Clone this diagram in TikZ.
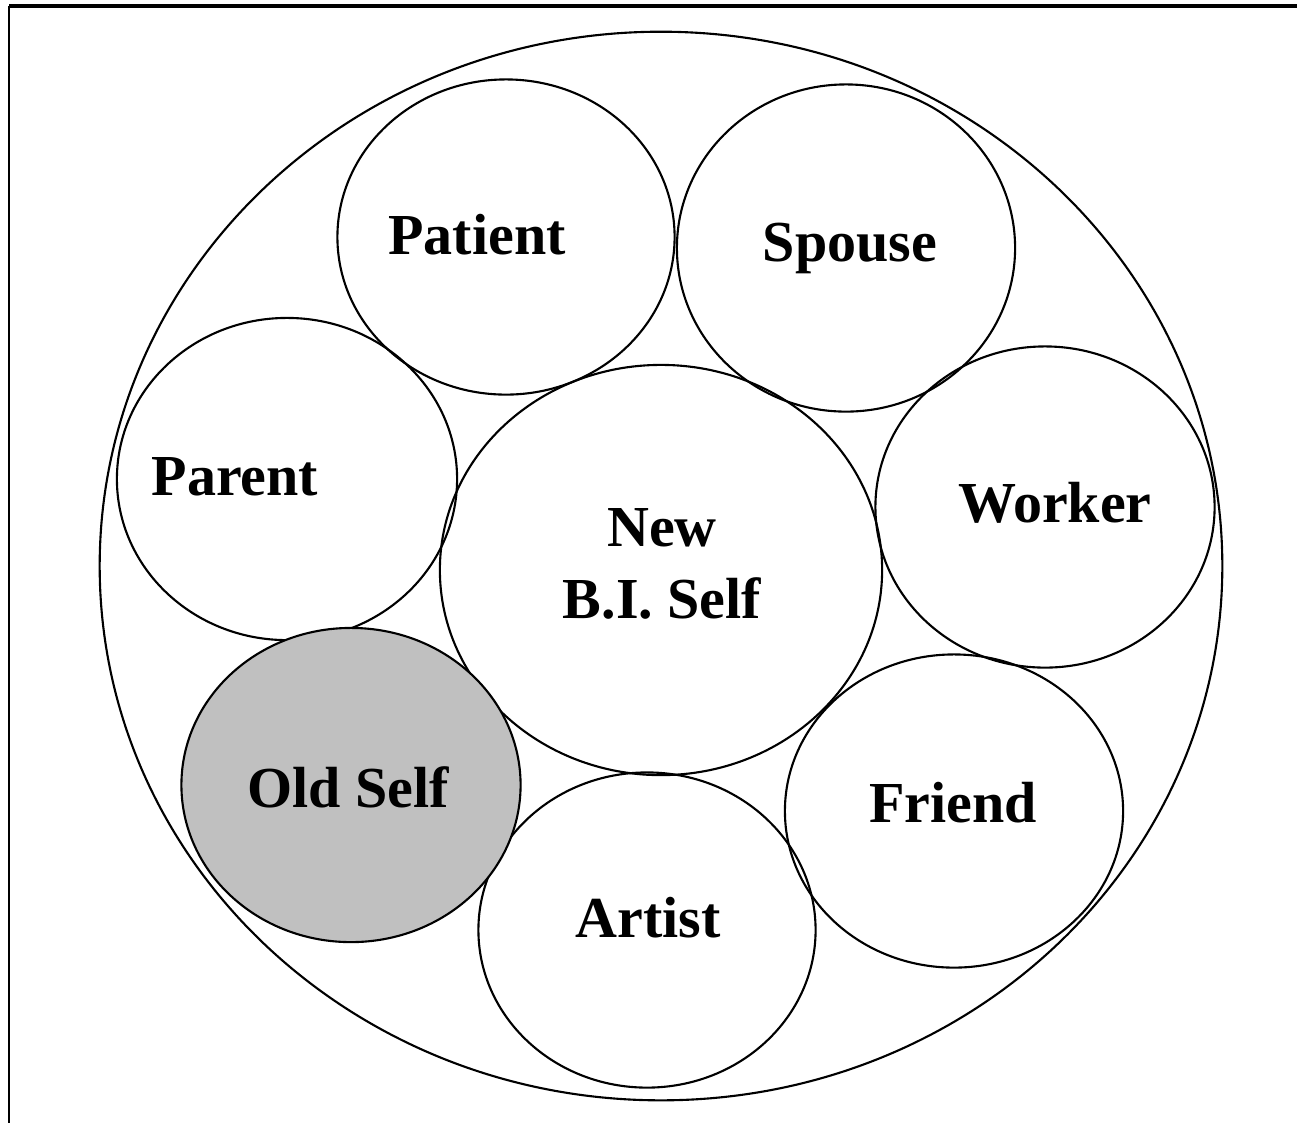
\documentclass[tikz,border=0pt]{standalone}
\usepackage{fontspec}
\setmainfont{Liberation Serif}
\usetikzlibrary{shapes.geometric}
\definecolor{oldgray}{RGB}{192,192,192}
\begin{document}
\begin{tikzpicture}[x=0.01cm,y=-0.01cm,
		role/.style={draw,ellipse,inner sep=0pt,line width=0.6pt},
		oldrole/.style={role,fill=oldgray},
		rolename/.style={font=\fontsize{16.5}{20.5}\selectfont\bfseries,align=center}]
			\useasboundingbox (0,0) rectangle (1297,1123);
			% frame
			\coordinate (frameTL) at (9,6);
			\coordinate (frameTR) at (1297,6);
			\coordinate (frameBL) at (9,1123);
			\draw[line width=1.2pt] (frameTR) -- (frameTL);
			\draw[line width=0.5pt] (frameTL) -- (frameBL);
			% the whole self
			\node[role,minimum width=11.22cm,minimum height=10.68cm] (whole) at (661,566) {};
			% roles
			\node[role,minimum width=3.37cm,minimum height=3.15cm] (patient) at (506,237) {};
			\node[role,minimum width=3.38cm,minimum height=3.27cm] (spouse) at (846,248) {};
			\node[role,minimum width=3.40cm,minimum height=3.22cm] (parent) at (287,479) {};
			\node[role,minimum width=4.42cm,minimum height=4.10cm] (newself) at (661,570) {};
			\node[role,minimum width=3.39cm,minimum height=3.21cm] (worker) at (1045,507) {};
			\node[role,minimum width=3.38cm,minimum height=3.13cm] (friend) at (954,811) {};
			\node[role,minimum width=3.37cm,minimum height=3.15cm] (artist) at (647,930) {};
			\node[oldrole,minimum width=3.39cm,minimum height=3.14cm] (oldself) at (351,785) {};
			% names
			\node[rolename] (patientname) at (477,235) {Patient};
			\node[rolename] (spousename) at (850,248) {Spouse};
			\node[rolename] (parentname) at (235,477) {Parent};
			\node[rolename] (newselfname) at (662,564) {New\\B.I. Self};
			\node[rolename] (workername) at (1055,503) {Worker};
			\node[rolename] (oldselfname) at (348,787) {Old Self};
			\node[rolename] (friendname) at (953,803) {Friend};
			\node[rolename] (artistname) at (648,918) {Artist};
		\end{tikzpicture}
\end{document}
